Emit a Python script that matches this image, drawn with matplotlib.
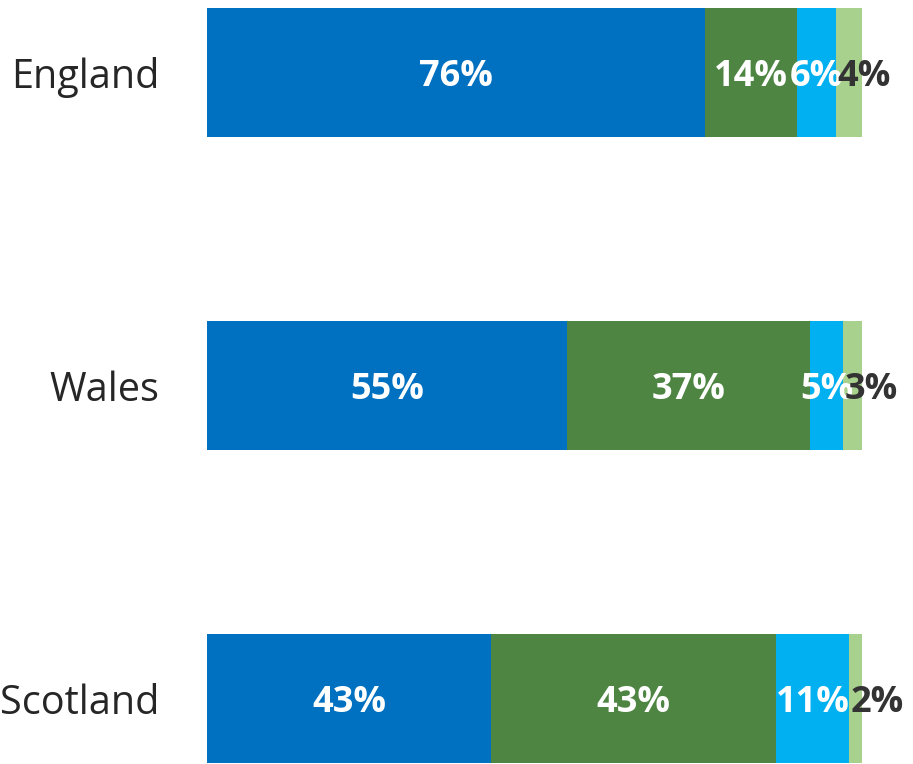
import numpy as np
import matplotlib.pyplot as plt

regions = ['England', 'Wales', 'Scotland']
# share of each group (labels are rounded)
s1 = [76.0, 55.0, 43.4]
s2 = [14.0, 37.1, 43.5]
s3 = [6.0, 5.0, 11.1]
s4 = [4.0, 2.9, 2.0]
labels1 = ['76%', '55%', '43%']
labels2 = ['14%', '37%', '43%']
labels3 = ['6%', '5%', '11%']
labels4 = ['4%', '3%', '2%']

colors = ['#0070C0', '#4E8542', '#00B0F0', '#A9D18E']

plt.rcParams['font.family'] = ['Open Sans', 'DejaVu Sans']

fig = plt.figure(figsize=(9.13, 7.64), dpi=100)
ax = fig.add_axes([207/913, 0, 655/913, 1])

y = np.arange(len(regions))
left = np.zeros(len(regions))
for vals, labs, c in zip([s1, s2, s3, s4], [labels1, labels2, labels3, labels4], colors):
    vals = np.array(vals)
    ax.barh(y, vals, left=left, height=129/313, color=c)
    for i in range(len(regions)):
        if c == colors[3]:
            ax.text(left[i] + 0.2, y[i] + 0.015, labs[i], ha='left', va='center',
                    fontsize=26, fontweight='bold', color='#333333')
        else:
            ax.text(left[i] + vals[i]/2, y[i] + 0.015, labs[i], ha='center', va='center',
                    fontsize=26, fontweight='bold', color='white')
    left += vals

ax.set_xlim(0, 100)
ax.set_ylim((764 - 72.5)/313, -72.5/313)
ax.set_yticks(y)
ax.set_yticklabels(regions, fontsize=28.5, color='#262626')
ax.tick_params(axis='y', length=0, pad=34)
ax.set_xticks([])
for sp in ax.spines.values():
    sp.set_visible(False)

fig.savefig('out.png', dpi=100)
